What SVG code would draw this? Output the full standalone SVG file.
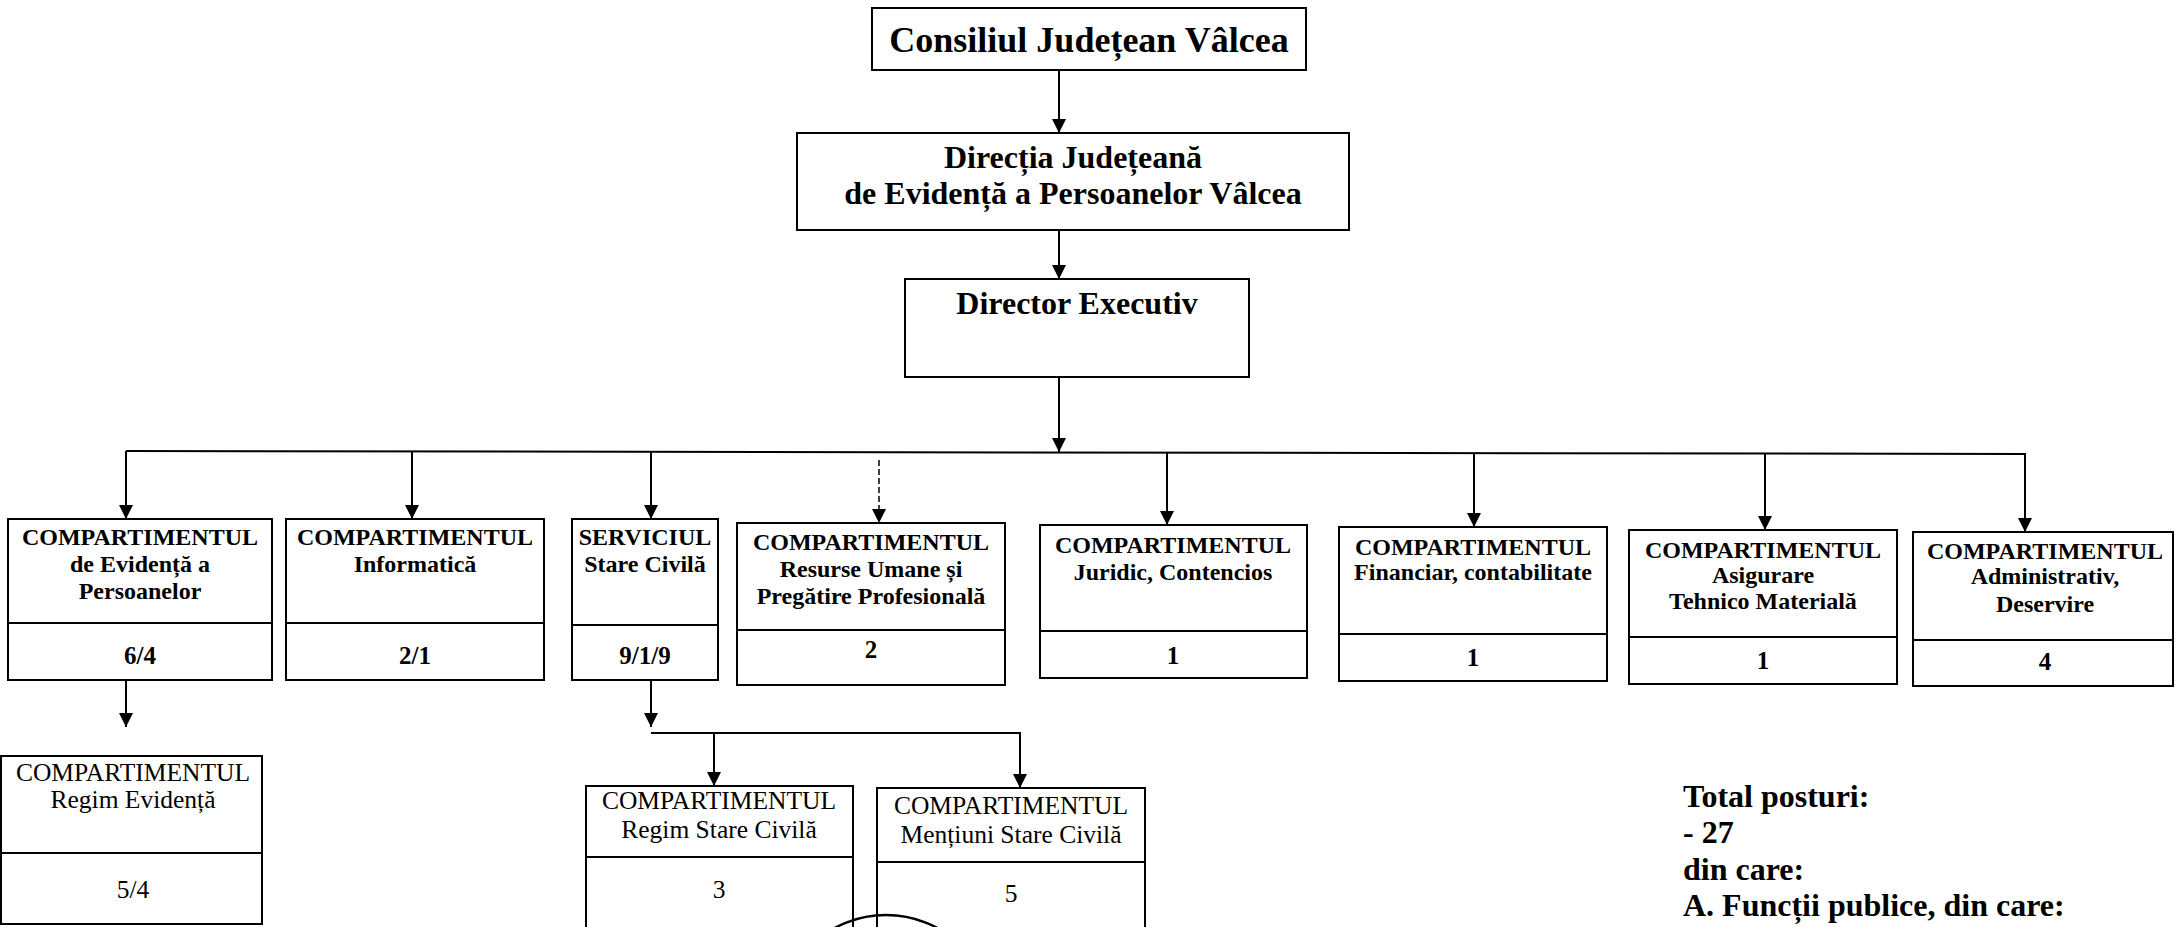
<svg xmlns="http://www.w3.org/2000/svg" width="2176" height="927" viewBox="0 0 2176 927">
<style>
  .box{fill:#fff;stroke:#000;stroke-width:2}
  .div{stroke:#000;stroke-width:2}
  .t{font-family:"Liberation Serif","Times New Roman",serif;fill:#000;text-anchor:middle}
  .b{font-weight:bold}
  .top{font-size:36px}
  .mid{font-size:32px}
  .h{font-size:24px}
  .n{font-size:25px}
  .lo{font-size:25.5px}
  .tot{font-family:"Liberation Serif","Times New Roman",serif;font-weight:bold;font-size:32px;fill:#000}
  .c{fill:none;stroke:#000;stroke-width:2}
  .dash{stroke-dasharray:6 3;stroke-width:1.5}
</style>
<defs>
  <marker id="ah" viewBox="0 0 14 16" refX="14" refY="7" markerWidth="14" markerHeight="16" markerUnits="userSpaceOnUse" orient="auto">
    <path d="M0,0 L14,7 L0,14 z" fill="#000"/>
  </marker>
</defs>
<rect width="2176" height="927" fill="#fff"/>

<g id="connectors">
  <line class="c" x1="1059" y1="70" x2="1059" y2="133" marker-end="url(#ah)"/>
  <line class="c" x1="1059" y1="230" x2="1059" y2="279" marker-end="url(#ah)"/>
  <line class="c" x1="1059" y1="377" x2="1059" y2="452" marker-end="url(#ah)"/>
  <line class="c" x1="126" y1="451" x2="2026" y2="454"/>
  <line class="c" x1="126" y1="451" x2="126" y2="519" marker-end="url(#ah)"/>
  <line class="c" x1="412" y1="451" x2="412" y2="519" marker-end="url(#ah)"/>
  <line class="c" x1="651" y1="452" x2="651" y2="519" marker-end="url(#ah)"/>
  <line class="c dash" x1="879" y1="460" x2="879" y2="523" marker-end="url(#ah)"/>
  <line class="c" x1="1167" y1="453" x2="1167" y2="525" marker-end="url(#ah)"/>
  <line class="c" x1="1474" y1="453" x2="1474" y2="527" marker-end="url(#ah)"/>
  <line class="c" x1="1765" y1="454" x2="1765" y2="530" marker-end="url(#ah)"/>
  <line class="c" x1="2025" y1="454" x2="2025" y2="532" marker-end="url(#ah)"/>
  <line class="c" x1="126" y1="680" x2="126" y2="727" marker-end="url(#ah)"/>
  <line class="c" x1="651" y1="680" x2="651" y2="727" marker-end="url(#ah)"/>
  <line class="c" x1="651" y1="733" x2="1021" y2="733"/>
  <line class="c" x1="714" y1="733" x2="714" y2="786" marker-end="url(#ah)"/>
  <line class="c" x1="1020" y1="733" x2="1020" y2="788" marker-end="url(#ah)"/>
</g>

<g id="n-consiliu">
  <rect class="box" x="872" y="8" width="434" height="62"/>
  <text class="t b top" x="1089" y="52">Consiliul Județean Vâlcea</text>
</g>

<g id="n-directia">
  <rect class="box" x="797" y="133" width="552" height="97"/>
  <text class="t b mid" x="1073" y="168">Direcția Județeană</text>
  <text class="t b mid" x="1073" y="204">de Evidență a Persoanelor Vâlcea</text>
</g>

<g id="n-director">
  <rect class="box" x="905" y="279" width="344" height="98"/>
  <text class="t b mid" x="1077" y="314">Director Executiv</text>
</g>

<g id="n-evidenta">
  <rect class="box" x="8" y="519" width="264" height="161"/>
  <line class="div" x1="8" y1="623" x2="272" y2="623"/>
  <text class="t b h" x="140" y="545">COMPARTIMENTUL</text>
  <text class="t b h" x="140" y="572">de Evidență a</text>
  <text class="t b h" x="140" y="599">Persoanelor</text>
  <text class="t b n" x="140" y="664">6/4</text>
</g>

<g id="n-informatica">
  <rect class="box" x="286" y="519" width="258" height="161"/>
  <line class="div" x1="286" y1="623" x2="544" y2="623"/>
  <text class="t b h" x="415" y="545">COMPARTIMENTUL</text>
  <text class="t b h" x="415" y="572">Informatică</text>
  <text class="t b n" x="415" y="664">2/1</text>
</g>

<g id="n-stare-civila">
  <rect class="box" x="572" y="519" width="146" height="161"/>
  <line class="div" x1="572" y1="625" x2="718" y2="625"/>
  <text class="t b h" x="645" y="545">SERVICIUL</text>
  <text class="t b h" x="645" y="572">Stare Civilă</text>
  <text class="t b n" x="645" y="664">9/1/9</text>
</g>

<g id="n-resurse">
  <rect class="box" x="737" y="523" width="268" height="162"/>
  <line class="div" x1="737" y1="630" x2="1005" y2="630"/>
  <text class="t b h" x="871" y="550">COMPARTIMENTUL</text>
  <text class="t b h" x="871" y="577">Resurse Umane și</text>
  <text class="t b h" x="871" y="604">Pregătire Profesională</text>
  <text class="t b n" x="871" y="658">2</text>
</g>

<g id="n-juridic">
  <rect class="box" x="1040" y="525" width="267" height="153"/>
  <line class="div" x1="1040" y1="631" x2="1307" y2="631"/>
  <text class="t b h" x="1173" y="553">COMPARTIMENTUL</text>
  <text class="t b h" x="1173" y="580">Juridic, Contencios</text>
  <text class="t b n" x="1173" y="664">1</text>
</g>

<g id="n-financiar">
  <rect class="box" x="1339" y="527" width="268" height="154"/>
  <line class="div" x1="1339" y1="634" x2="1607" y2="634"/>
  <text class="t b h" x="1473" y="555">COMPARTIMENTUL</text>
  <text class="t b h" x="1473" y="580">Financiar, contabilitate</text>
  <text class="t b n" x="1473" y="666">1</text>
</g>

<g id="n-asigurare">
  <rect class="box" x="1629" y="530" width="268" height="154"/>
  <line class="div" x1="1629" y1="637" x2="1897" y2="637"/>
  <text class="t b h" x="1763" y="558">COMPARTIMENTUL</text>
  <text class="t b h" x="1763" y="583">Asigurare</text>
  <text class="t b h" x="1763" y="609">Tehnico Materială</text>
  <text class="t b n" x="1763" y="669">1</text>
</g>

<g id="n-administrativ">
  <rect class="box" x="1913" y="532" width="260" height="154"/>
  <line class="div" x1="1913" y1="640" x2="2173" y2="640"/>
  <text class="t b h" x="2045" y="559">COMPARTIMENTUL</text>
  <text class="t b h" x="2045" y="584">Administrativ,</text>
  <text class="t b h" x="2045" y="612">Deservire</text>
  <text class="t b n" x="2045" y="670">4</text>
</g>

<g id="n-regim-evidenta">
  <rect class="box" x="1" y="756" width="261" height="168"/>
  <line class="div" x1="1" y1="853" x2="262" y2="853"/>
  <text class="t lo" x="133" y="781">COMPARTIMENTUL</text>
  <text class="t lo" x="133" y="808">Regim Evidență</text>
  <text class="t lo" x="133" y="898">5/4</text>
</g>

<g id="n-regim-stare-civila">
  <rect class="box" x="586" y="786" width="267" height="150"/>
  <line class="div" x1="586" y1="857" x2="853" y2="857"/>
  <text class="t lo" x="719" y="809">COMPARTIMENTUL</text>
  <text class="t lo" x="719" y="838">Regim Stare Civilă</text>
  <text class="t lo" x="719" y="898">3</text>
</g>

<g id="n-mentiuni">
  <rect class="box" x="877" y="788" width="268" height="150"/>
  <line class="div" x1="877" y1="862" x2="1145" y2="862"/>
  <text class="t lo" x="1011" y="814">COMPARTIMENTUL</text>
  <text class="t lo" x="1011" y="843">Mențiuni Stare Civilă</text>
  <text class="t lo" x="1011" y="902">5</text>
</g>

<g id="stamp">
  <circle cx="886" cy="1023" r="108" fill="none" stroke="#000" stroke-width="2.5"/>
</g>

<g id="total">
  <text class="tot" x="1683" y="807">Total posturi:</text>
  <text class="tot" x="1683" y="843">- 27</text>
  <text class="tot" x="1683" y="880">din care:</text>
  <text class="tot" x="1683" y="916">A. Funcții publice, din care:</text>
</g>
</svg>
